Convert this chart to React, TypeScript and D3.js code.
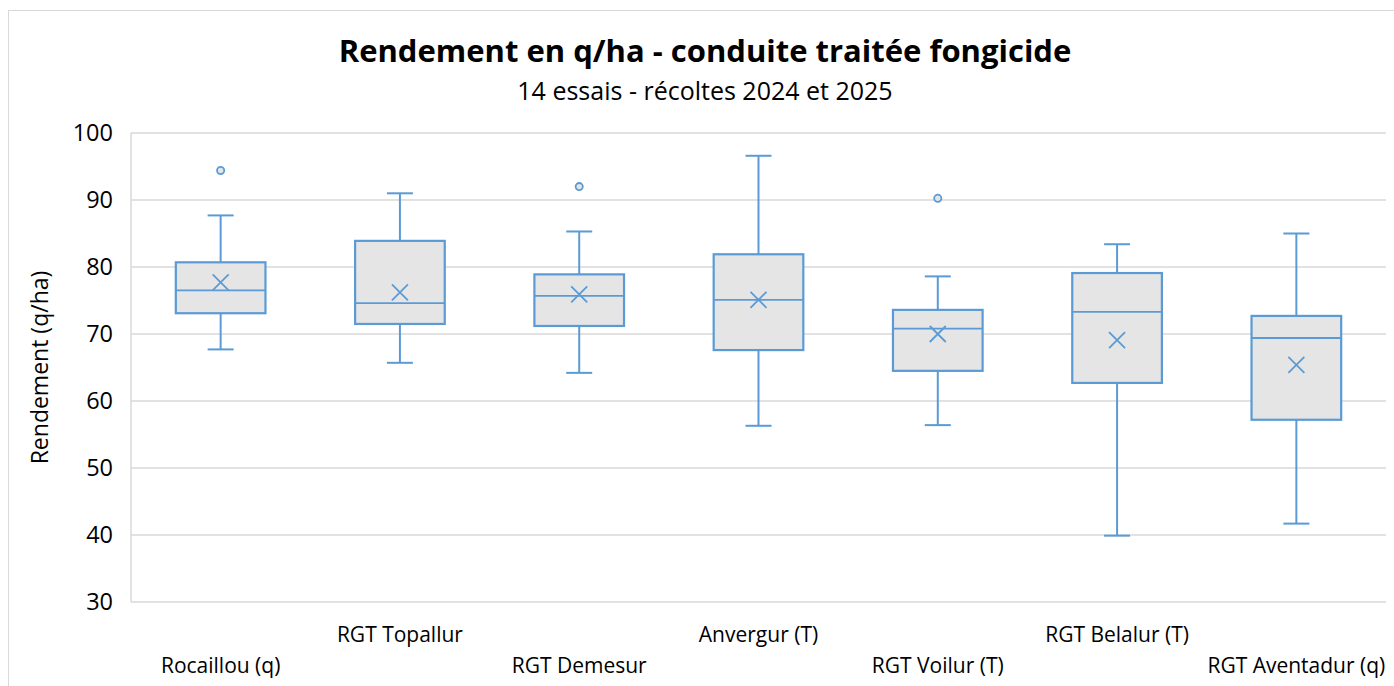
import React from 'react';
import { scaleBand, scaleLinear } from 'd3';

// varieties, in chart order
const varietes = [
  'Rocaillou (q)',
  'RGT Topallur',
  'RGT Demesur',
  'Anvergur (T)',
  'RGT Voilur (T)',
  'RGT Belalur (T)',
  'RGT Aventadur (q)',
];
const whiskerMin = [67.7, 65.7, 64.2, 56.3, 56.4, 39.9, 41.7];
const q1 = [73.1, 71.5, 71.2, 67.6, 64.5, 62.7, 57.2];
const median = [76.5, 74.6, 75.7, 75.1, 70.8, 73.3, 69.4];
const q3 = [80.7, 83.9, 78.9, 81.9, 73.6, 79.1, 72.7];
const whiskerMax = [87.7, 91.0, 85.3, 96.6, 78.6, 83.4, 85.0];
const mean = [77.7, 76.2, 75.9, 75.1, 70.0, 69.1, 65.4];
const outliers: Array<Array<number>> = [[94.4], [], [92.0], [], [90.25], [], []];
const yTicks = [30, 40, 50, 60, 70, 80, 90, 100];

const BLUE = '#5B9BD5';
const FONT = '"Open Sans", sans-serif';

export default function App() {
  const left = 131;
  const right = 1386;
  const top = 133;
  const bottom = 602;

  const x = scaleBand<string>().domain(varietes).range([left, right]);
  const y = scaleLinear().domain([30, 100]).range([bottom, top]);
  const boxW = x.bandwidth() / 2;
  const capW = 26;
  const m = 8;

  return (
    <svg
      width={1394}
      height={686}
      style={{ position: 'absolute', left: 0, top: 0, background: '#fff' }}
      fontFamily={FONT}
    >
      <rect x={8.5} y={10.5} width={1400} height={700} fill="#fff" stroke="#D9D9D9" />

      <text x={705} y={62} textAnchor="middle" fontSize={31} fontWeight={700} fill="#000">
        Rendement en q/ha - conduite traitée fongicide
      </text>
      <text x={705} y={100} textAnchor="middle" fontSize={25} fill="#000">
        14 essais - récoltes 2024 et 2025
      </text>

      {/* gridlines */}
      {yTicks.map((t) => (
        <line key={t} x1={left} x2={right} y1={y(t)} y2={y(t)} stroke="#D9D9D9" strokeWidth={1.5} />
      ))}
      <line x1={left} x2={left} y1={top} y2={bottom} stroke="#D9D9D9" strokeWidth={1.5} />

      {yTicks.map((t) => (
        <text key={t} x={113} y={y(t) + 8} textAnchor="end" fontSize={23.5} fill="#000">
          {t}
        </text>
      ))}
      <text
        transform={`translate(48,${(top + bottom) / 2}) rotate(-90)`}
        textAnchor="middle"
        fontSize={23}
        fill="#000"
      >
        Rendement (q/ha)
      </text>

      {varietes.map((v, i) => {
        const cx = (x(v) as number) + x.bandwidth() / 2;
        const my = y(mean[i]);
        return (
          <g key={v}>
            <line x1={cx} x2={cx} y1={y(whiskerMax[i])} y2={y(q3[i])} stroke={BLUE} strokeWidth={2} />
            <line x1={cx} x2={cx} y1={y(q1[i])} y2={y(whiskerMin[i])} stroke={BLUE} strokeWidth={2} />
            <line x1={cx - capW / 2} x2={cx + capW / 2} y1={y(whiskerMax[i])} y2={y(whiskerMax[i])} stroke={BLUE} strokeWidth={2} />
            <line x1={cx - capW / 2} x2={cx + capW / 2} y1={y(whiskerMin[i])} y2={y(whiskerMin[i])} stroke={BLUE} strokeWidth={2} />
            <rect
              x={cx - boxW / 2}
              y={y(q3[i])}
              width={boxW}
              height={y(q1[i]) - y(q3[i])}
              fill="#E5E5E5"
              stroke={BLUE}
              strokeWidth={2.2}
            />
            <line x1={cx - boxW / 2} x2={cx + boxW / 2} y1={y(median[i])} y2={y(median[i])} stroke={BLUE} strokeWidth={1.8} />
            <path
              d={`M${cx - m},${my - m}L${cx + m},${my + m}M${cx - m},${my + m}L${cx + m},${my - m}`}
              stroke={BLUE}
              strokeWidth={1.8}
              fill="none"
            />
            {outliers[i].map((o, j) => (
              <circle key={j} cx={cx} cy={y(o)} r={3.6} fill="#E5E5E5" stroke={BLUE} strokeWidth={1.8} />
            ))}
            <text
              x={cx}
              y={i % 2 === 0 ? 673 : 642}
              textAnchor="middle"
              fontSize={21}
              fill="#000"
            >
              {v}
            </text>
          </g>
        );
      })}
    </svg>
  );
}
